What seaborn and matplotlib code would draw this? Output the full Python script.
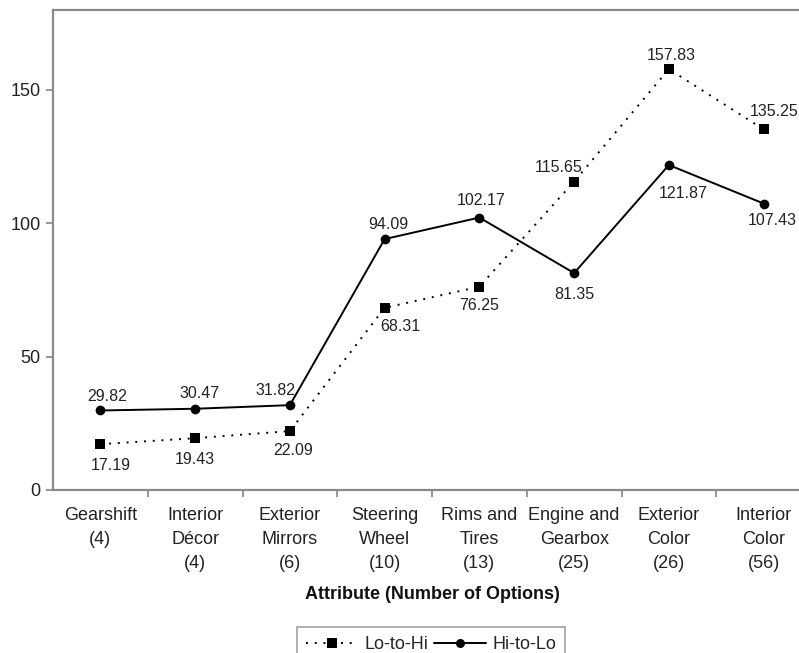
import numpy as np
import pandas as pd
import matplotlib
matplotlib.use("Agg")
import matplotlib.pyplot as plt
import seaborn as sns

# Chart data
categories = ["Gearshift\n(4)", "Interior\nDécor\n(4)", "Exterior\nMirrors\n(6)",
              "Steering\nWheel\n(10)", "Rims and\nTires\n(13)", "Engine and\nGearbox\n(25)",
              "Exterior\nColor\n(26)", "Interior\nColor\n(56)"]
lo_to_hi = [17.19, 19.43, 22.09, 68.31, 76.25, 115.65, 157.83, 135.25]
hi_to_lo = [29.82, 30.47, 31.82, 94.09, 102.17, 81.35, 121.87, 107.43]
y_ticks = [0, 50, 100, 150]

# label placement (pixel offsets) for each value
lo_offsets = [(10, -21), (0, -21), (3, -19), (16, -19), (0, -19), (-16, 14), (2, 14), (10, 18)]
hi_offsets = [(7, 14), (4, 15), (-14, 15), (4, 15), (2, 17), (0, -21), (14, -28), (9, -17)]

sns.set_theme(style="white")
plt.rcParams["font.family"] = ["Liberation Sans", "DejaVu Sans"]

x = np.arange(len(categories))
df = pd.DataFrame({
    "pos": np.concatenate([x, x]),
    "value": lo_to_hi + hi_to_lo,
    "series": ["Lo-to-Hi"] * len(x) + ["Hi-to-Lo"] * len(x),
})

fig = plt.figure(figsize=(7.99, 6.53), dpi=100)
ax = fig.add_axes([53 / 799, 163 / 653, 758 / 799, 480 / 653])

sns.lineplot(data=df, x="pos", y="value", hue="series", style="series",
             palette={"Lo-to-Hi": "black", "Hi-to-Lo": "black"},
             markers={"Lo-to-Hi": "s", "Hi-to-Lo": "o"},
             dashes={"Lo-to-Hi": (1, 3.5), "Hi-to-Lo": ""},
             markersize=7, linewidth=1.4, markeredgewidth=0, ax=ax, legend=False)

for i in range(len(x)):
    ax.annotate(f"{lo_to_hi[i]:.2f}", (x[i], lo_to_hi[i]), xytext=lo_offsets[i],
                textcoords="offset pixels", ha="center", va="center", fontsize=11.5, color="#222222")
    ax.annotate(f"{hi_to_lo[i]:.2f}", (x[i], hi_to_lo[i]), xytext=hi_offsets[i],
                textcoords="offset pixels", ha="center", va="center", fontsize=11.5, color="#222222")

ax.set_xlim(-0.5, len(x) - 0.5)
ax.set_ylim(0, 180)
ax.set_yticks(y_ticks)
ax.set_xticks(np.arange(0.5, len(x), 1.0))
ax.set_xticklabels([])
ax.set_xticks(x, minor=True)
ax.set_xticklabels(categories, minor=True, fontsize=13, linespacing=1.55, color="#222222")
ax.tick_params(axis="x", which="minor", length=0, pad=12)
ax.tick_params(axis="x", which="major", length=5, color="#888888", direction="out", bottom=True)
ax.tick_params(axis="y", length=5, color="#888888", direction="out", left=True, labelsize=13,
               labelcolor="#222222", pad=4)

for side in ["left", "top", "bottom"]:
    ax.spines[side].set_color("#8a8a8a")
    ax.spines[side].set_linewidth(1.6)
ax.spines["right"].set_visible(False)

ax.set_xlabel("Attribute (Number of Options)", fontsize=13, fontweight="bold", labelpad=10, color="#111111")
ax.set_ylabel("")

handles = [
    plt.Line2D([], [], color="black", linestyle=(0, (1, 3.5)), marker="s", markersize=7,
               markeredgewidth=0, linewidth=1.4),
    plt.Line2D([], [], color="black", linestyle="-", marker="o", markersize=6.5,
               markeredgewidth=0, linewidth=1.4),
]
leg = fig.legend(handles, ["Lo-to-Hi", "Hi-to-Lo"], loc="upper center",
                 bbox_to_anchor=(431 / 799, 1 - 627 / 653), ncol=2, fontsize=13,
                 frameon=True, fancybox=False, edgecolor="#8a8a8a", handlelength=2.9,
                 handletextpad=0.35, columnspacing=0.3, borderpad=0.5, borderaxespad=0,
                 numpoints=1)
leg.get_frame().set_linewidth(1.2)

fig.savefig("out.png", dpi=100)
